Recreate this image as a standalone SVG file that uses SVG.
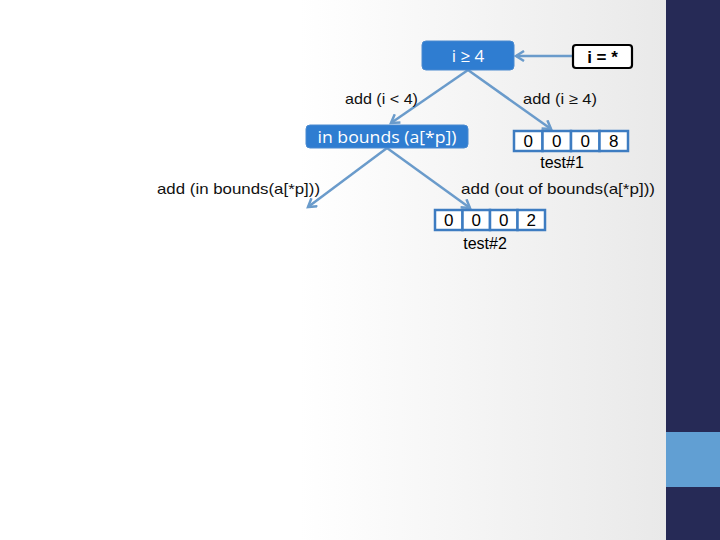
<svg xmlns="http://www.w3.org/2000/svg" width="720" height="540" viewBox="0 0 720 540">
<defs>
<linearGradient id="bg" x1="0" y1="0" x2="666" y2="0" gradientUnits="userSpaceOnUse">
<stop offset="0.45" stop-color="#ffffff"/>
<stop offset="1" stop-color="#e9e9e9"/>
</linearGradient>
<marker id="ah" markerWidth="12" markerHeight="12" refX="9" refY="6" orient="auto" markerUnits="userSpaceOnUse">
<path d="M1,1 L9,6 L1,11" fill="none" stroke="#6a9bcb" stroke-width="2.5" stroke-linejoin="miter"/>
</marker>
<style>
.edge{stroke:#6a9bcb;stroke-width:2.5;fill:none;marker-end:url(#ah)}
.bnode{fill:#2f7dd1;stroke:#4a8ad0;stroke-width:1}
.wt{fill:#ffffff;font-family:"Open Sans","Liberation Sans",sans-serif;font-size:17px;text-anchor:middle}
.lbl{fill:#111111;font-family:"Liberation Sans",sans-serif;font-size:15px}
.cell{fill:#ffffff;stroke:#3d7cc1;stroke-width:2.5}
.dig{fill:#000000;font-family:"Liberation Sans",sans-serif;font-size:17px;text-anchor:middle}
.tst{fill:#000000;font-family:"Liberation Sans",sans-serif;font-size:16px;text-anchor:middle}
</style>
</defs>
<rect x="0" y="0" width="720" height="540" fill="url(#bg)"/>
<rect x="666" y="0" width="54" height="540" fill="#262a56"/>
<rect x="666" y="432" width="54" height="55" fill="#619fd3"/>

<g id="connectors">
<line class="edge" x1="572" y1="56" x2="516" y2="56"/>
<line class="edge" x1="468" y1="70" x2="391" y2="123"/>
<line class="edge" x1="468" y1="70" x2="551" y2="129"/>
<line class="edge" x1="387" y1="148" x2="308" y2="207"/>
<line class="edge" x1="387" y1="148" x2="470" y2="208"/>
</g>

<g id="node-i-ge-4">
<rect class="bnode" x="422" y="41" width="92" height="29" rx="4"/>
<text class="wt" x="468" y="62" font-size="18">i ≥ 4</text>
</g>

<g id="node-i-star">
<rect x="573" y="45" width="59" height="23" rx="3" fill="#ffffff" stroke="#000000" stroke-width="2.2"/>
<text x="602.5" y="63" font-family="Liberation Sans,sans-serif" font-size="17" font-weight="bold" text-anchor="middle" fill="#000">i = *</text>
</g>

<g id="node-in-bounds">
<rect class="bnode" x="306" y="125" width="162" height="23" rx="4"/>
<text class="wt" x="387" y="143" textLength="139" lengthAdjust="spacingAndGlyphs">in bounds (a[*p])</text>
</g>

<g id="node-test1">
<rect class="cell" x="514" y="131" width="28.5" height="20"/>
<rect class="cell" x="542.5" y="131" width="28.5" height="20"/>
<rect class="cell" x="571" y="131" width="28.5" height="20"/>
<rect class="cell" x="599.5" y="131" width="28.5" height="20"/>
<text class="dig" x="528.2" y="147">0</text>
<text class="dig" x="556.7" y="147">0</text>
<text class="dig" x="585.2" y="147">0</text>
<text class="dig" x="613.7" y="147">8</text>
<text class="tst" x="562" y="168">test#1</text>
</g>

<g id="node-test2">
<rect class="cell" x="435" y="210" width="27.5" height="20"/>
<rect class="cell" x="462.5" y="210" width="27.5" height="20"/>
<rect class="cell" x="490" y="210" width="27.5" height="20"/>
<rect class="cell" x="517.5" y="210" width="27.5" height="20"/>
<text class="dig" x="448.7" y="226">0</text>
<text class="dig" x="476.2" y="226">0</text>
<text class="dig" x="503.7" y="226">0</text>
<text class="dig" x="531.2" y="226">2</text>
<text class="tst" x="485" y="249">test#2</text>
</g>

<g id="edge-labels">
<text class="lbl" x="345" y="104" textLength="73" lengthAdjust="spacingAndGlyphs">add (i &lt; 4)</text>
<text class="lbl" x="523" y="104" textLength="74" lengthAdjust="spacingAndGlyphs">add (i ≥ 4)</text>
<text class="lbl" x="157" y="194" textLength="163" lengthAdjust="spacingAndGlyphs">add (in bounds(a[*p]))</text>
<text class="lbl" x="461" y="194" textLength="194" lengthAdjust="spacingAndGlyphs">add (out of bounds(a[*p]))</text>
</g>
</svg>
